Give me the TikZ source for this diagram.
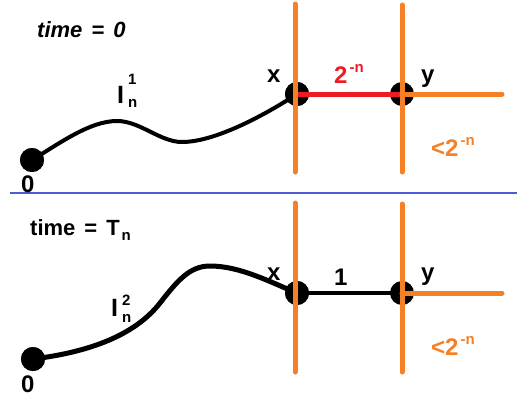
\documentclass[tikz,border=0pt]{standalone}
\usepackage{fontspec}
\setmainfont{Liberation Sans}
\definecolor{org}{RGB}{245,128,37}
\definecolor{rd}{RGB}{237,28,36}
\definecolor{bl}{RGB}{80,90,210}
\newcommand{\mysupsub}[5]{\hspace{#5}\rlap{\raisebox{#3}{\fontsize{15}{15}\selectfont #1}}\raisebox{#4}{\fontsize{15}{15}\selectfont #2}}
\newcommand{\mypow}{\hspace{2pt}\raisebox{11pt}{\fontsize{15}{15}\selectfont -n}}
\begin{document}
\begin{tikzpicture}[x=1pt,y=-1pt,
  dot/.style={circle,fill=black,inner sep=0pt,minimum size=24pt},
  lbl/.style={inner sep=0pt,anchor=base west,font=\bfseries\fontsize{24}{24}\selectfont},
  bar/.style={line width=5pt,draw=org,line cap=round},
  path1/.style={line width=4pt},
  path2/.style={line width=5pt}]
\useasboundingbox (0,0) rectangle (517,399);
% separator
\coordinate (sepL) at (10,193);
\coordinate (sepR) at (517,193);
\draw[bl,line width=2pt] (sepL) -- (sepR);

% ---------- top panel ----------
\node[dot] (o1) at (32,160) {};
\node[dot] (x1) at (297,94) {};
\node[dot] (y1) at (402,94) {};
\coordinate (p1) at (117,121);
\coordinate (q1) at (182,142);
\draw[path1] (o1.center) .. controls (60,143) and (90,121) .. (p1)
  .. controls (140,121) and (160,142) .. (q1)
  .. controls (215,142) and (265,115) .. (x1.center);
\node[dot] at (o1) {};
\node[dot] at (x1) {};
\draw[rd,line width=5pt] (x1.center) -- (y1.center);
\coordinate (a1t) at (295,4);
\coordinate (a1b) at (295,172);
\coordinate (b1t) at (402,5);
\coordinate (b1b) at (402,172);
\coordinate (h1) at (502,94);
\draw[bar] (a1t) -- (a1b);
\draw[bar] (b1t) -- (b1b);
\draw[bar] (y1.center) -- (h1);

\node[lbl,font=\bfseries\itshape\fontsize{22}{22}\selectfont] (t1) at (37,37) {time\hspace{9pt}=\hspace{9pt}0};
\node[lbl,font=\bfseries\fontsize{25}{25}\selectfont] (I1) at (117,103) {I\mysupsub{1}{n}{19pt}{-4pt}{4pt}};
\node[lbl] (lx1) at (267,82) {x};
\node[lbl,text=rd] (ld1) at (334,83) {2\mypow};
\node[lbl] (ly1) at (421,82) {y};
\node[lbl,text=org] (lr1) at (431,156) {<2\mypow};
\node[lbl,font=\bfseries\fontsize{24}{24}\selectfont] (z1) at (21,192) {0};

% ---------- bottom panel ----------
\node[dot] (o2) at (33,359) {};
\node[dot] (x2) at (297,293) {};
\node[dot] (y2) at (402,293) {};
\coordinate (m2) at (160,303);
\coordinate (p2) at (210,266);
\draw[path2] (o2.center) .. controls (90,352) and (135,335) .. (m2)
  .. controls (178,280) and (190,266) .. (p2)
  .. controls (240,266) and (270,282) .. (x2.center);
\node[dot] at (o2) {};
\node[dot] at (x2) {};
\draw[line width=4.5pt] (x2.center) -- (y2.center);
\coordinate (a2t) at (295,203);
\coordinate (a2b) at (295,372);
\coordinate (b2t) at (402,204);
\coordinate (b2b) at (402,372);
\coordinate (h2) at (502,293);
\draw[bar] (a2t) -- (a2b);
\draw[bar] (b2t) -- (b2b);
\draw[bar] (y2.center) -- (h2);

\node[lbl,font=\bfseries\fontsize{22}{22}\selectfont] (t2) at (30,235) {time\hspace{9pt}=\hspace{9pt}T\hspace{2pt}\raisebox{-5pt}{\fontsize{15}{15}\selectfont n}};
\node[lbl,font=\bfseries\fontsize{25}{25}\selectfont] (I2) at (111,316) {I\mysupsub{2}{n}{11pt}{-6pt}{4pt}};
\node[lbl] (lx2) at (267,280) {x};
\node[lbl] (l12) at (334,285) {1};
\node[lbl] (ly2) at (421,280) {y};
\node[lbl,text=org] (lr2) at (431,355) {<2\mypow};
\node[lbl,font=\bfseries\fontsize{24}{24}\selectfont] (z2) at (21,392) {0};
\end{tikzpicture}
\end{document}
